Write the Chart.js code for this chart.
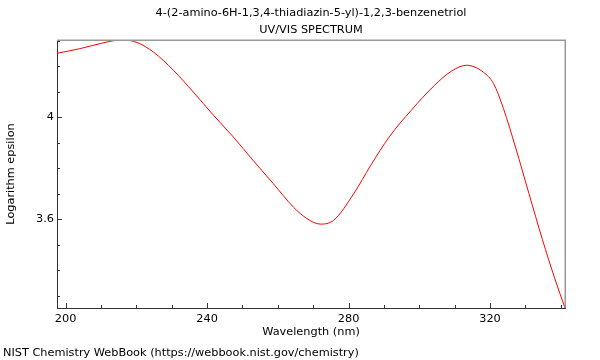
<!DOCTYPE html>
<html><head><meta charset="utf-8">
<script src="https://cdn.jsdelivr.net/npm/chart.js@4/dist/chart.umd.min.js"></script>
<style>html,body{margin:0;padding:0;background:#fff}canvas{display:block}</style>
</head><body>
<canvas id="c" width="600" height="360"></canvas>
<script>
const titleLines = ['4-(2-amino-6H-1,3,4-thiadiazin-5-yl)-1,2,3-benzenetriol', 'UV/VIS SPECTRUM'];
const footerText = 'NIST Chemistry WebBook (https://webbook.nist.gov/chemistry)';
const xAxisLabel = 'Wavelength (nm)';
const yAxisLabel = 'Logarithm epsilon';

const wavelengths = [197.6, 204.0, 209.8, 213.5, 216.4, 220.2, 224.8, 230.5, 236.1, 241.8, 247.4, 253.0, 258.7, 264.4, 268.2, 272.0, 275.8, 281.5, 286.3, 291.5, 297.7, 304.3, 309.1, 313.4, 318.1, 321.0, 323.8, 327.2, 331.0, 334.8, 338.3, 341.2];
const logEpsilon  = [4.250, 4.268, 4.288, 4.299, 4.302, 4.292, 4.255, 4.183, 4.098, 4.007, 3.922, 3.830, 3.739, 3.647, 3.602, 3.580, 3.595, 3.700, 3.811, 3.922, 4.026, 4.124, 4.180, 4.203, 4.176, 4.131, 4.033, 3.882, 3.700, 3.520, 3.367, 3.251];

const xTickLabels = [200, 240, 280, 320];
const xMinorTicks = [210, 220, 230, 250, 260, 270, 290, 300, 310, 330, 340];
const yTickLabels = [3.6, 4];
const yMinorTicks = [3.3, 3.4, 3.5, 3.7, 3.8, 3.9, 4.1, 4.2, 4.3];

const FONT = 'DejaVu Sans';
const FS = 11.3;

const decor = {
  id: 'decor',
  afterDraw(chart) {
    const {ctx, chartArea: a, scales: {x, y}} = chart;
    ctx.save();
    // top & right frame
    ctx.strokeStyle = '#999';
    ctx.lineWidth = 1.5;
    ctx.beginPath();
    ctx.moveTo(a.left, a.top + 0.25);
    ctx.lineTo(a.right + 0.25, a.top + 0.25);
    ctx.lineTo(a.right + 0.25, a.bottom);
    ctx.stroke();
    // ticks (inside)
    ctx.strokeStyle = '#333';
    ctx.lineWidth = 1;
    ctx.beginPath();
    const xt = (v, len) => { const p = Math.round(x.getPixelForValue(v)) + 0.5; ctx.moveTo(p, a.bottom); ctx.lineTo(p, a.bottom - len); };
    const yt = (v, len) => { const p = Math.round(y.getPixelForValue(v)) + 0.5; ctx.moveTo(a.left, p); ctx.lineTo(a.left + len, p); };
    xTickLabels.forEach(v => xt(v, 5));
    xMinorTicks.forEach(v => xt(v, 3));
    yTickLabels.forEach(v => yt(v, 5));
    yMinorTicks.forEach(v => yt(v, 3));
    ctx.stroke();
    // titles
    ctx.fillStyle = '#000';
    ctx.font = FS + 'px "' + FONT + '"';
    ctx.textAlign = 'center';
    ctx.textBaseline = 'middle';
    const cx = (a.left + a.right) / 2;
    ctx.fillText(titleLines[0], cx, 13.5);
    ctx.fillText(titleLines[1], cx, 30);
    ctx.textAlign = 'left';
    ctx.fillText(footerText, 3, 353);
    ctx.restore();
  }
};

new Chart(document.getElementById('c').getContext('2d'), {
  type: 'line',
  data: {
    datasets: [{
      data: wavelengths.map((w, i) => ({x: w, y: logEpsilon[i]})),
      borderColor: '#ff0000',
      borderWidth: 1,
      pointRadius: 0,
      cubicInterpolationMode: 'monotone',
      fill: false
    }]
  },
  options: {
    responsive: false,
    animation: false,
    devicePixelRatio: 1,
    layout: {padding: {left: 0, right: 35, top: 40, bottom: 0}},
    plugins: {legend: {display: false}, tooltip: {enabled: false}, title: {display: false}},
    scales: {
      x: {
        type: 'linear', min: 197.57, max: 341.2,
        afterFit(s) { s.height = 52; },
        afterBuildTicks(s) { s.ticks = xTickLabels.map(v => ({value: v})); },
        grid: {display: false, drawTicks: false},
        border: {display: true, color: '#333', width: 1},
        ticks: {padding: 4, color: '#000', font: {family: FONT, size: FS}, maxRotation: 0, autoSkip: false, callback: v => String(v)},
        title: {display: true, text: xAxisLabel, color: '#000', font: {family: FONT, size: FS}, padding: {top: 0, bottom: 21.2}}
      },
      y: {
        type: 'linear', min: 3.251, max: 4.302,
        afterFit(s) { s.width = 57; },
        afterBuildTicks(s) { s.ticks = yTickLabels.map(v => ({value: v})); },
        grid: {display: false, drawTicks: false},
        border: {display: true, color: '#333', width: 1},
        ticks: {padding: 3, color: '#000', font: {family: FONT, size: FS}, autoSkip: false, callback: v => String(v)},
        title: {display: true, text: yAxisLabel, color: '#000', font: {family: FONT, size: FS}, padding: {top: 4.2, bottom: 0}}
      }
    }
  },
  plugins: [decor]
});
</script>
</body></html>
